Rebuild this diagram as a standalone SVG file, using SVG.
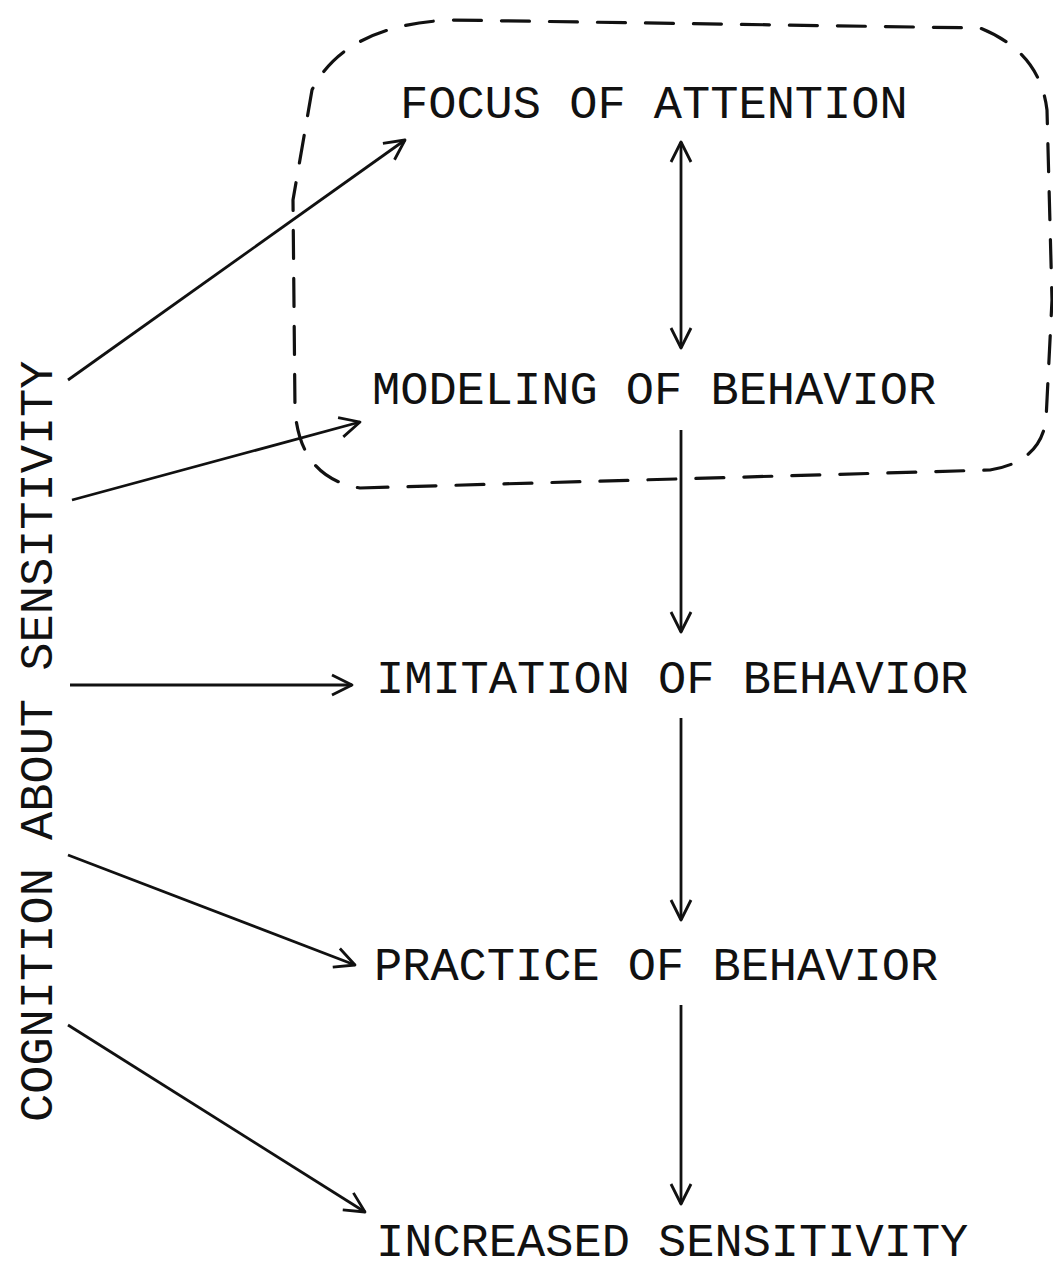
<svg xmlns="http://www.w3.org/2000/svg" width="1053" height="1275" viewBox="0 0 1053 1275">
<defs>
<style>
.t{font-family:"Liberation Mono","Courier New",monospace;font-size:47px;fill:#111}
.c{stroke:#111;stroke-width:2.8;fill:none}
.b{stroke:#111;stroke-width:3.2;fill:none;stroke-dasharray:28 20;stroke-linecap:round}
</style>
<marker id="ah" viewBox="0 0 24 24" refX="22" refY="12" markerWidth="24" markerHeight="24" markerUnits="userSpaceOnUse" orient="auto-start-reverse">
<path d="M2,2 L22,12 L2,22" fill="none" stroke="#111" stroke-width="2.8" stroke-linejoin="round"/>
</marker>
</defs>
<rect width="1053" height="1275" fill="#fff"/>
<g id="group-box">
<path class="b" d="M360,488 L990,470 Q1040,462 1046,420 L1052,300 L1047,110 Q1040,52 980,28 L450,20 Q345,25 312,90 L293,200 L295,410 Q300,478 360,488 Z"/>
</g>
<g id="n-focus"><text class="t" x="400" y="118">FOCUS OF ATTENTION</text></g>
<g id="n-modeling"><text class="t" x="372" y="404">MODELING OF BEHAVIOR</text></g>
<g id="n-imitation"><text class="t" x="376" y="693">IMITATION OF BEHAVIOR</text></g>
<g id="n-practice"><text class="t" x="374" y="980">PRACTICE OF BEHAVIOR</text></g>
<g id="n-increased"><text class="t" x="376" y="1256">INCREASED SENSITIVITY</text></g>
<g id="n-cognition"><text class="t" transform="translate(52,1122) rotate(-90)">COGNITION ABOUT SENSITIVITY</text></g>
<g id="connectors">
<line class="c" x1="68" y1="380" x2="405" y2="140" marker-end="url(#ah)"/>
<line class="c" x1="72" y1="500" x2="360" y2="422" marker-end="url(#ah)"/>
<line class="c" x1="70" y1="685" x2="352" y2="685" marker-end="url(#ah)"/>
<line class="c" x1="68" y1="855" x2="355" y2="965" marker-end="url(#ah)"/>
<line class="c" x1="68" y1="1025" x2="365" y2="1212" marker-end="url(#ah)"/>
<line class="c" x1="681" y1="142" x2="681" y2="348" marker-start="url(#ah)" marker-end="url(#ah)"/>
<line class="c" x1="681" y1="430" x2="681" y2="632" marker-end="url(#ah)"/>
<line class="c" x1="681" y1="718" x2="681" y2="920" marker-end="url(#ah)"/>
<line class="c" x1="681" y1="1005" x2="681" y2="1204" marker-end="url(#ah)"/>
</g>
</svg>
